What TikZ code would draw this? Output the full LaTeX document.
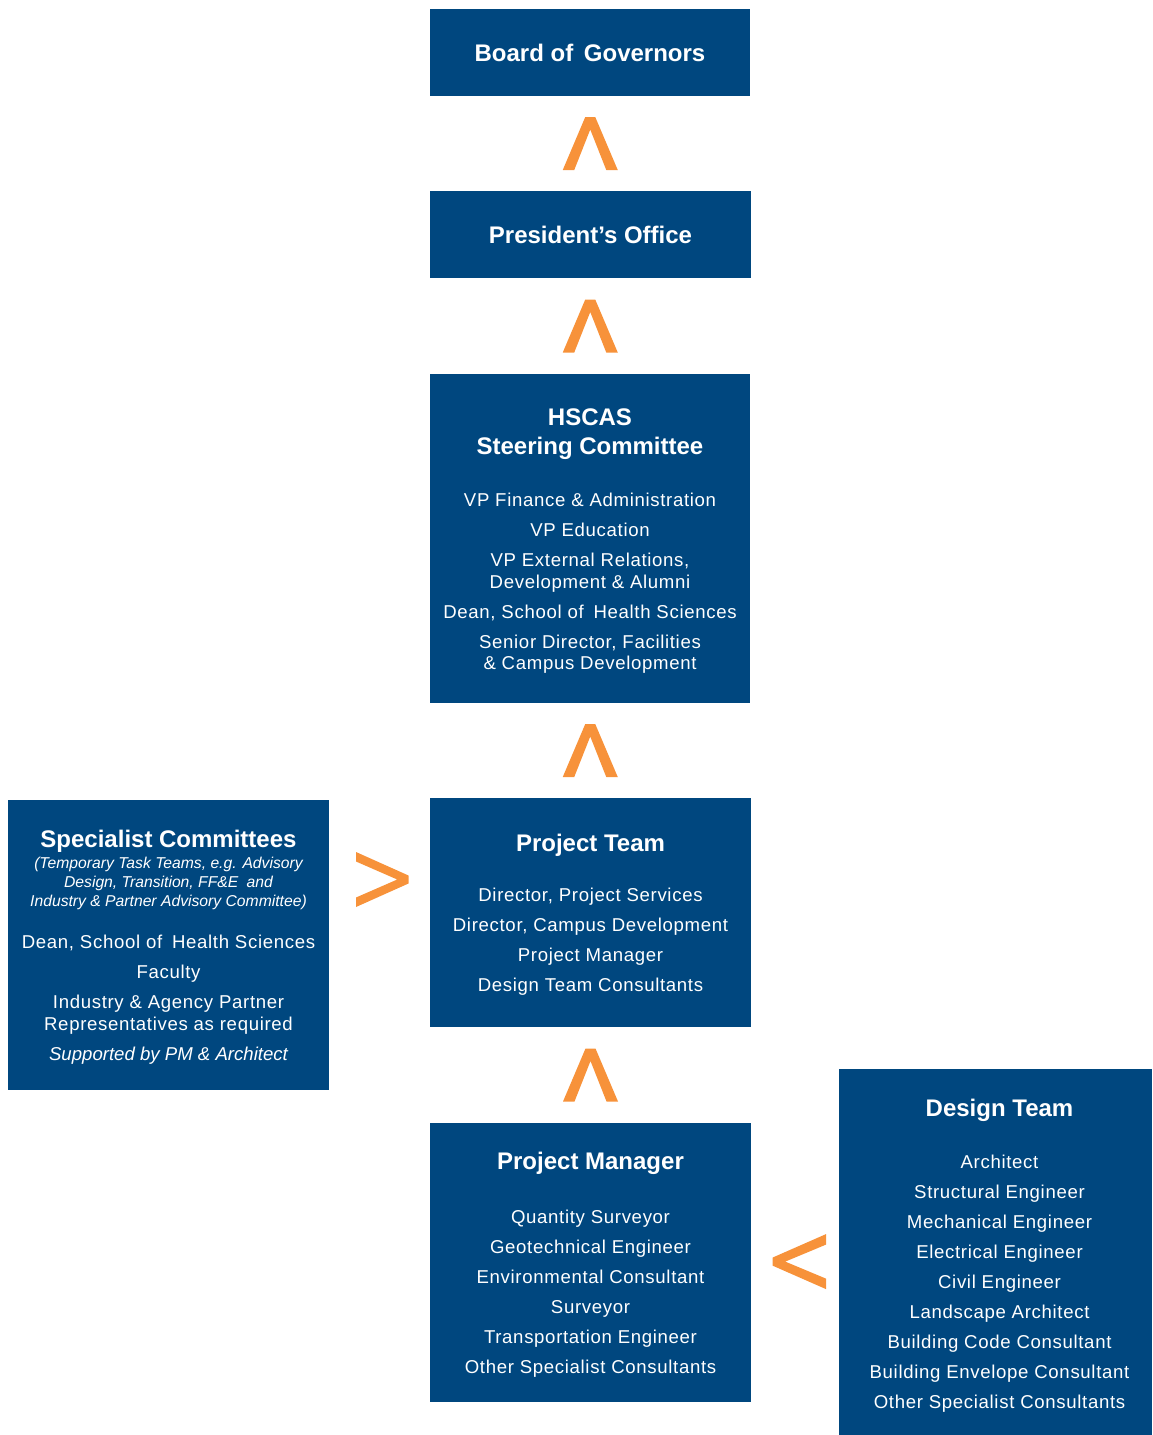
\documentclass[tikz,border=0pt]{standalone}
\usepackage{fontspec}
\setmainfont{Liberation Sans}
\newfontfamily\bodyf{Liberation Sans}[LetterSpace=3.6]
\usetikzlibrary{calc}
\definecolor{boxblue}{RGB}{0,71,127}
\definecolor{chevorange}{RGB}{247,146,58}
\newcommand\boxtitle[1]{{\rmfamily\bfseries\fontsize{24}{29}\selectfont #1}}
\newcommand\smallit[1]{{\rmfamily\itshape\fontsize{15.7}{19}\selectfont #1}}
\newcommand\bodyit[1]{{\rmfamily\itshape #1}}
\newcommand\topstrut{\rule{0pt}{22pt}}
\tikzset{
  orgbox/.style={fill=boxblue, text=white, inner sep=0pt, align=center,
    font=\bodyf\fontsize{18.6}{21.7}\selectfont},
  orgtext/.style={text=white, inner sep=0pt, align=center,
    font=\bodyf\fontsize{18.6}{21.7}\selectfont},
  chevup/.pic={\fill[chevorange] (-27.5,26.5) -- (-5,-26.5) -- (5,-26.5) -- (27.5,26.5)
      -- (16,26.5) -- (0,-14) -- (-16,26.5) -- cycle;},
  chevright/.pic={\fill[chevorange] (-26.25,-27.5) -- (26.25,-4) -- (26.25,4) -- (-26.25,27.5)
      -- (-26.25,18) -- (15,0) -- (-26.25,-18) -- cycle;},
  chevleft/.pic={\fill[chevorange] (26.75,-27.5) -- (-26.75,-4) -- (-26.75,4) -- (26.75,27.5)
      -- (26.75,17) -- (-14,0) -- (26.75,-17) -- cycle;}
}
\begin{document}
\begin{tikzpicture}[x=1pt,y=-1pt]
\useasboundingbox (0,0) rectangle (1152,1435);

\node[orgbox, minimum width=320pt, minimum height=87pt] (board) at (590,52.5)
  {\boxtitle{Board of\hspace{4pt} Governors}};

\node[orgbox, minimum width=321pt, minimum height=87pt] (pres) at (590.5,234.5)
  {\boxtitle{President’s Office}};

\node[orgbox, minimum width=320pt, minimum height=329pt] (hscas) at (590,538.5)
  {\topstrut\boxtitle{HSCAS}\\[7.3pt]
   \boxtitle{Steering Committee}\\[30.3pt]
   VP Finance \& Administration\\[8.3pt]
   VP Education\\[8.3pt]
   VP External Relations,\\
   Development \& Alumni\\[8.3pt]
   Dean, School of\hspace{4pt} Health Sciences\\[8.3pt]
   Senior Director, Facilities\\
   \& Campus Development};

\node[orgbox, minimum width=321pt, minimum height=229pt] (pt) at (590.5,912.5)
  {\topstrut\boxtitle{Project Team}\\[28.3pt]
   Director, Project Services\\[8.3pt]
   Director, Campus Development\\[8.3pt]
   Project Manager\\[8.3pt]
   Design Team Consultants};

\node[orgbox, minimum width=321pt, minimum height=290pt] (spec) at (168.5,945)
  {\topstrut\boxtitle{Specialist Committees}\\[-1.1pt]
   \smallit{(Temporary Task Teams, e.g. Advisory}\\[-2.7pt]
   \smallit{Design, Transition, FF\&E\hspace{4pt} and}\\[-2.7pt]
   \smallit{Industry \& Partner Advisory Committee)}\\[20.3pt]
   Dean, School of\hspace{4pt} Health Sciences\\[8.3pt]
   Faculty\\[8.3pt]
   Industry \& Agency Partner\\
   Representatives as required\\[8.3pt]
   \bodyit{Supported by PM \& Architect}};

\node[orgbox, minimum width=321pt, minimum height=279pt] (pm) at (590.5,1262.5)
  {\topstrut\boxtitle{Project Manager}\\[31.7pt]
   Quantity Surveyor\\[8.3pt]
   Geotechnical Engineer\\[8.3pt]
   Environmental Consultant\\[8.3pt]
   Surveyor\\[8.3pt]
   Transportation Engineer\\[8.3pt]
   Other Specialist Consultants};

\node[orgbox, minimum width=313pt, minimum height=366pt] (design) at (995.5,1252) {};
\node[orgtext] (designtext) at ($(design.center)+(4,4)$)
  {\boxtitle{Design Team}\\[30pt]
   Architect\\[8.3pt]
   Structural Engineer\\[8.3pt]
   Mechanical Engineer\\[8.3pt]
   Electrical Engineer\\[8.3pt]
   Civil Engineer\\[8.3pt]
   Landscape Architect\\[8.3pt]
   Building Code Consultant\\[8.3pt]
   Building Envelope Consultant\\[8.3pt]
   Other Specialist Consultants};

\pic at ($(board.south)!0.5!(pres.north)$) {chevup};
\pic at ($(pres.south)!0.5!(hscas.north)$) {chevup};
\pic at ($(hscas.south)!0.5!(pt.north)$) {chevup};
\pic at ($(pt.south)!0.5!(pm.north)$) {chevup};
\pic at ($($(spec.east)!0.5!(pt.west)$)+(2.75,-49.25)$) {chevright};
\pic at ($($(pm.east)!0.5!(design.west)$)+(4.25,4.35)$) {chevleft};
\end{tikzpicture}
\end{document}
